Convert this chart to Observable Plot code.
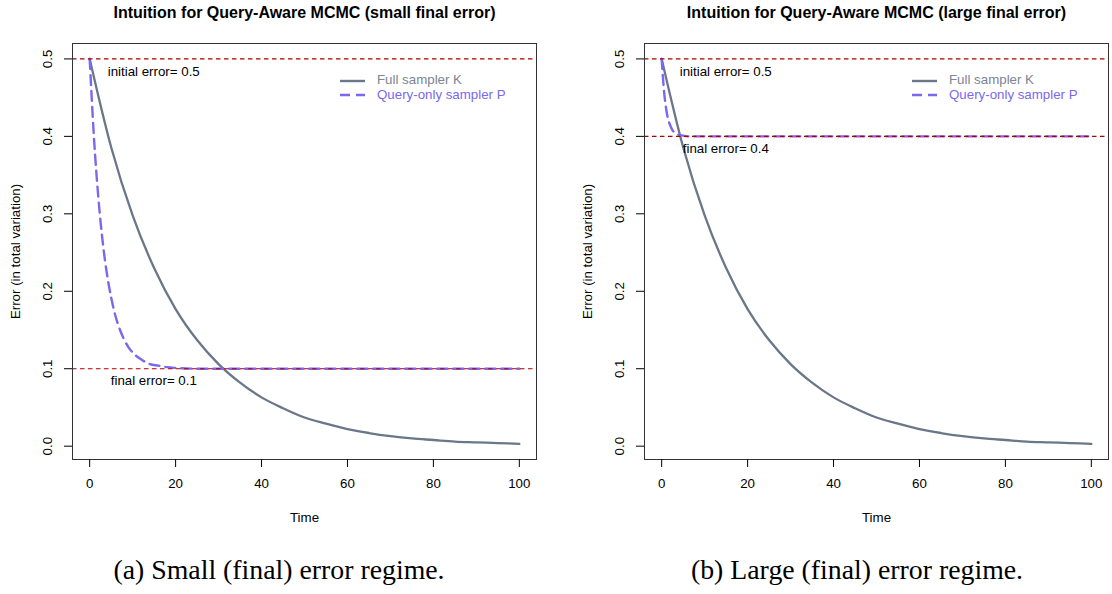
<!DOCTYPE html>
<html><head><meta charset="utf-8">
<script src="https://cdn.jsdelivr.net/npm/d3@7"></script>
<script src="https://cdn.jsdelivr.net/npm/@observablehq/plot@0.6"></script>
<style>
body{margin:0;background:#fff;}
#root{position:relative;width:1112px;height:594px;overflow:hidden;font-family:"Liberation Sans",Arial,sans-serif;background:#fff;}
.panel{position:absolute;top:0;}
.lg{position:absolute;font-size:13.3px;line-height:14px;white-space:nowrap;}
.sw{position:absolute;}
.caption{position:absolute;top:553px;font-family:"Liberation Serif","Times New Roman",serif;font-size:27.8px;line-height:34px;transform:translateX(-50%);white-space:nowrap;color:#000;}
</style></head>
<body><div id="root"></div>
<script>
// ---- data ----
const timeK = [0,5,10,15,20,25,30,35,40,45,50,55,60,65,70,75,80,85,90,95,100];
const errK  = [0.5,0.386,0.298,0.230,0.177,0.137,0.106,0.082,0.063,0.049,0.037,0.029,0.022,0.017,0.013,0.010,0.008,0.006,0.005,0.004,0.003];

const timePSmall = [0,1,2,3,4,5,6,7,8,9,10,12,14,16,18,20,25,30,40,50,60,70,80,90,100];
const errPSmall  = [0.5,0.398,0.322,0.265,0.223,0.192,0.168,0.151,0.138,0.128,0.121,0.112,0.106,0.104,0.102,0.101,0.1,0.1,0.1,0.1,0.1,0.1,0.1,0.1,0.1];

const timePLarge = [0,0.5,1,1.5,2,2.5,3,4,5,6,8,10,20,30,40,50,60,70,80,90,100];
const errPLarge  = [0.5,0.461,0.437,0.422,0.414,0.408,0.405,0.402,0.401,0.4,0.4,0.4,0.4,0.4,0.4,0.4,0.4,0.4,0.4,0.4,0.4];

const initialErr = 0.5;
const finalErr = [0.1, 0.4];
const titles = ["Intuition for Query-Aware MCMC (small final error)", "Intuition for Query-Aware MCMC (large final error)"];
const captions = ["(a) Small (final) error regime.", "(b) Large (final) error regime."];
const seriesNames = ["Full sampler K", "Query-only sampler P"];
const xTicks = [0,20,40,60,80,100];
const yTicks = [0,0.1,0.2,0.3,0.4,0.5];
const xLabel = "Time";
const yLabel = "Error (in total variation)";

// ---- styling ----
const K_COLOR = "#6a7788";
const P_COLOR = "#7b68ee";
const RED = "#a80000";
const fmt = d3.format(".1f");

const toRows = (ts, es) => ts.map((t, i) => ({t, e: es[i]}));
const kRows = toRows(timeK, errK);
const pRows = [toRows(timePSmall, errPSmall), toRows(timePLarge, errPLarge)];

const root = document.getElementById("root");
const panelLeft = [0, 572];
const panelWidth = [556, 540];
const panelMR = [20, 4];

function makePanel(i) {
  const fe = finalErr[i];
  const chart = Plot.plot({
    width: panelWidth[i],
    height: 530,
    marginLeft: 72,
    marginRight: panelMR[i],
    marginTop: 43,
    marginBottom: 71,
    style: {fontFamily: "'Liberation Sans', Arial, sans-serif", fontSize: "13.3px", color: "#000", background: "transparent", overflow: "visible"},
    x: {domain: [-4, 104]},
    y: {domain: [-0.0172, 0.5199]},
    marks: [
      Plot.line(kRows, {x: "t", y: "e", stroke: K_COLOR, strokeWidth: 2.3, curve: "monotone-x"}),
      Plot.line(pRows[i], {x: "t", y: "e", stroke: P_COLOR, strokeWidth: 2.4, strokeDasharray: "10,6", curve: "monotone-x"}),
      Plot.ruleY([initialErr, fe], {stroke: RED, strokeWidth: 1.1, strokeDasharray: "4.5,3.5"}),
      Plot.frame({stroke: "#333", strokeWidth: 1}),
      Plot.axisX({ticks: xTicks, tickSize: 8, tickPadding: 11, label: null, tickFormat: d => String(d)}),
      Plot.axisY({ticks: yTicks, tickSize: 8, fill: "none", label: null}),
      Plot.text(yTicks, {y: d => d, text: d => fmt(d), frameAnchor: "left", dx: -25, rotate: -90, textAnchor: "middle", lineAnchor: "middle"}),
      Plot.text([yLabel], {text: d => d, frameAnchor: "left", dx: -57, rotate: -90, textAnchor: "middle", lineAnchor: "middle"}),
      Plot.text([xLabel], {text: d => d, frameAnchor: "bottom", dy: 58, lineAnchor: "middle"}),
      Plot.text([titles[i]], {text: d => d, frameAnchor: "top", dy: -31, lineAnchor: "middle", fontWeight: "bold", fontSize: 16}),
      Plot.text([{t: 4.2, e: initialErr, s: "initial error= " + initialErr}], {x: "t", y: "e", text: "s", textAnchor: "start", lineAnchor: "middle", dy: 12.5}),
      Plot.text([{t: 4.9, e: fe, s: "final error= " + fe}], {x: "t", y: "e", text: "s", textAnchor: "start", lineAnchor: "middle", dy: 12.5})
    ]
  });
  chart.classList.add("panel");
  chart.style.left = panelLeft[i] + "px";
  root.appendChild(chart);

  // legend (top-right, no box)
  const lx = panelLeft[i] + 340;
  const rows = [{y: 80.7, c: K_COLOR, tc: "#7b8593", dash: null}, {y: 95, c: P_COLOR, tc: "#7b68ee", dash: "10,6"}];
  rows.forEach((r, j) => {
    const sw = document.createElementNS("http://www.w3.org/2000/svg", "svg");
    sw.setAttribute("width", 26); sw.setAttribute("height", 6);
    sw.setAttribute("class", "sw");
    sw.style.left = lx + "px"; sw.style.top = (r.y - 3) + "px";
    const ln = document.createElementNS("http://www.w3.org/2000/svg", "line");
    ln.setAttribute("x1", 0); ln.setAttribute("x2", 25); ln.setAttribute("y1", 3); ln.setAttribute("y2", 3);
    ln.setAttribute("stroke", r.c); ln.setAttribute("stroke-width", 2.4);
    if (r.dash) ln.setAttribute("stroke-dasharray", r.dash);
    sw.appendChild(ln);
    root.appendChild(sw);
    const t = document.createElement("div");
    t.className = "lg";
    t.style.left = (lx + 37) + "px"; t.style.top = (r.y - 7.5) + "px";
    t.style.color = r.tc;
    t.textContent = seriesNames[j];
    root.appendChild(t);
  });

  const cap = document.createElement("div");
  cap.className = "caption";
  cap.style.left = [279, 857][i] + "px";
  cap.textContent = captions[i];
  root.appendChild(cap);
}
makePanel(0);
makePanel(1);
</script>
</body></html>
